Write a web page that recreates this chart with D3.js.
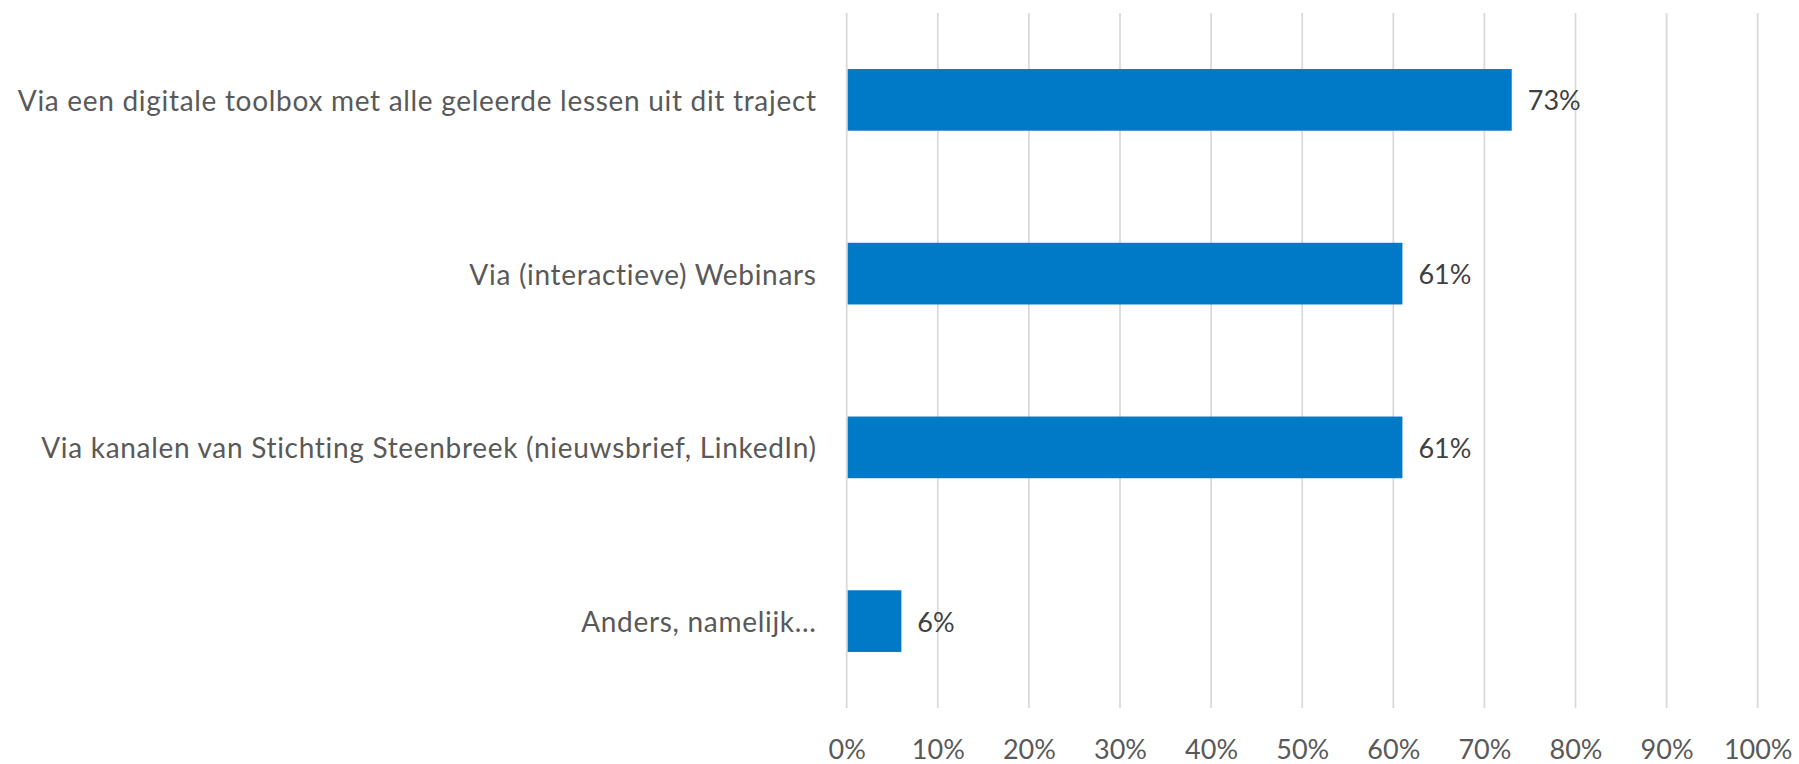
<!DOCTYPE html>
<html>
<head>
<meta charset="utf-8">
<script src="https://cdn.jsdelivr.net/npm/d3@7"></script>
<style>
  html, body { margin: 0; padding: 0; background: #fff; }
  svg { display: block; }
  text { font-family: Lato, "Open Sans", sans-serif; }
</style>
</head>
<body>
<svg id="chart" width="1799" height="764"></svg>
<script>
const categories = [
  "Via een digitale toolbox met alle geleerde lessen uit dit traject",
  "Via (interactieve) Webinars",
  "Via kanalen van Stichting Steenbreek (nieuwsbrief, LinkedIn)",
  "Anders, namelijk..."
];
const values = [0.73, 0.61, 0.61, 0.06];
const valueLabels = ["73%", "61%", "61%", "6%"];
const tickValues = [0, 0.1, 0.2, 0.3, 0.4, 0.5, 0.6, 0.7, 0.8, 0.9, 1.0];
const tickLabels = ["0%", "10%", "20%", "30%", "40%", "50%", "60%", "70%", "80%", "90%", "100%"];

const svg = d3.select("#chart");
const plot = { left: 846.7, right: 1757.7, top: 13, bottom: 708 };

const x = d3.scaleLinear().domain([0, 1]).range([plot.left, plot.right]);
const y = d3.scaleBand().domain(categories).range([plot.top, plot.bottom])
  .paddingInner(0.645).paddingOuter(0.3225);

// gridlines
svg.append("g").selectAll("line").data(tickValues).join("line")
  .attr("x1", d => x(d)).attr("x2", d => x(d))
  .attr("y1", plot.top).attr("y2", plot.bottom)
  .attr("stroke", "#D9D9D9").attr("stroke-width", 1.75);

// bars
svg.append("g").selectAll("rect").data(values).join("rect")
  .attr("x", x(0) + 1)
  .attr("y", (d, i) => y(categories[i]))
  .attr("width", d => x(d) - x(0) - 1)
  .attr("height", y.bandwidth())
  .attr("fill", "#0079C7");

// value labels
svg.append("g").selectAll("text").data(values).join("text")
  .attr("x", d => x(d) + 16)
  .attr("y", (d, i) => y(categories[i]) + y.bandwidth() / 2)
  .attr("dominant-baseline", "central")
  .attr("font-size", 27)
  .attr("fill", "#404040")
  .text((d, i) => valueLabels[i]);

// category labels
const catLabels = svg.append("g").selectAll("text").data(categories).join("text")
  .attr("x", plot.left - 30)
  .attr("y", d => y(d) + y.bandwidth() / 2)
  .attr("text-anchor", "end")
  .attr("dominant-baseline", "central")
  .attr("font-size", 28)
  .attr("fill", "#595959")
  .text(d => d);

// widen letter spacing to mimic the wider original face
const firstNode = catLabels.nodes()[0];
const w0 = firstNode.getComputedTextLength();
const targetW = 798;
const ls = Math.max(0, (targetW - w0) / (categories[0].length - 1));
catLabels.attr("letter-spacing", ls.toFixed(2));

// x axis tick labels
const xAxis = d3.axisBottom(x).tickValues(tickValues)
  .tickFormat((d, i) => tickLabels[i]).tickSize(0).tickPadding(0);
const ax = svg.append("g").attr("transform", `translate(0, ${plot.bottom})`).call(xAxis);
ax.select(".domain").remove();
ax.selectAll("text")
  .attr("y", 40)
  .attr("dy", null)
  .attr("dominant-baseline", "central")
  .attr("font-size", 27)
  .attr("font-family", "Lato, 'Open Sans', sans-serif")
  .attr("fill", "#595959");
</script>
</body>
</html>
